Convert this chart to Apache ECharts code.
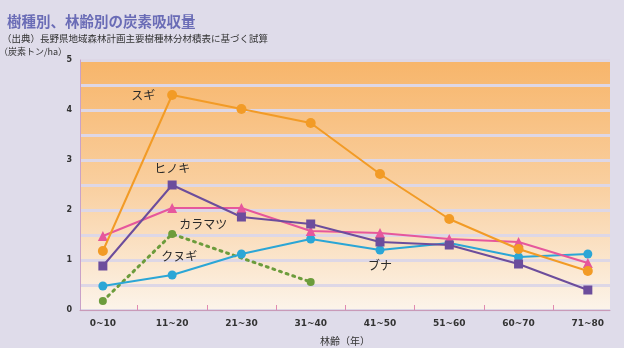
<!DOCTYPE html>
<html>
<head>
<meta charset="utf-8">
<script src="https://cdn.jsdelivr.net/npm/echarts@6/dist/echarts.min.js"></script>
<style>
html,body{margin:0;padding:0;background:#dfdcea;}
#c{width:624px;height:348px;}
</style>
</head>
<body>
<div id="c"></div>
<script>
var categories = ['0~10','11~20','21~30','31~40','41~50','51~60','60~70','71~80'];
var sugi     = [1.18, 4.30, 4.02, 3.74, 2.72, 1.82, 1.22, 0.78];
var hinoki   = [0.88, 2.50, 1.86, 1.72, 1.36, 1.30, 0.92, 0.40];
var karamatsu= [1.48, 2.04, 2.04, 1.58, 1.54, 1.42, 1.36, 0.94];
var buna     = [0.48, 0.70, 1.12, 1.42, 1.20, 1.34, 1.06, 1.12];
var kunugi   = [0.18, 1.52, null, 0.56, null, null, null, null];
var yTicks   = [0, 1, 2, 3, 4, 5];

function pts(arr){ return arr.map(function(v,i){ return [i, v]; }); }
function withLabel(arr, idx, label){
  var d = pts(arr);
  d[idx] = {value: d[idx], label: label};
  return d;
}
var lblFont = {show:true, color:'#2a2a2a', fontSize:12, fontFamily:'Noto Sans CJK JP'};

var chart = echarts.init(document.getElementById('c'), null, {renderer:'canvas'});
chart.setOption({
  backgroundColor: '#dfdcea',
  animation: false,
  title: [{
    text: '樹種別、林齢別の炭素吸収量',
    left: 2, top: 9,
    textStyle: {color:'#6a6cb6', fontSize:14.5, fontWeight:'bold', fontFamily:'Noto Sans CJK JP'}
  },{
    text: '（出典）長野県地域森林計画主要樹種林分材積表に基づく試算',
    left: -3, top: 29,
    textStyle: {color:'#333', fontSize:9.5, fontWeight:'normal', fontFamily:'Noto Sans CJK JP'}
  }],
  grid: {
    left: 80, right: 14, top: 60, bottom: 38,
    containLabel: false, outerBoundsMode: 'none',
    show: true, borderWidth: 0,
    backgroundColor: new echarts.graphic.LinearGradient(0,0,0,1,[
      {offset:0, color:'#f7b56a'},
      {offset:0.5, color:'#f9cf9f'},
      {offset:1, color:'#fcf4ea'}
    ])
  },
  xAxis: {
    type: 'value', min: -0.33, max: 7.32,
    name: '林齢（年）', nameLocation: 'middle', nameGap: 26,
    nameTextStyle: {color:'#333', fontSize:10, fontFamily:'Noto Sans CJK JP'},
    axisLine: {show:true, onZero:false, lineStyle:{color:'#c99ab8', width:1}},
    axisTick: {show:true, customValues:[0.5,1.5,2.5,3.5,4.5,5.5,6.5], length:5, inside:true, lineStyle:{color:'#e08ab0'}},
    axisLabel: {
      customValues: [0,1,2,3,4,5,6,7],
      formatter: function(v){ return categories[Math.round(v)]; },
      color:'#333', fontSize:9, fontWeight:'bold', margin:9, fontFamily:'DejaVu Sans'
    },
    splitLine: {show:false}
  },
  yAxis: {
    type: 'value', min: 0, max: 5, interval: 0.5,
    name: '（炭素トン/ha）', nameLocation: 'end', nameGap: 1,
    nameTextStyle: {color:'#333', fontSize:9, align:'right', padding:[0,13,0,0], fontFamily:'Noto Sans CJK JP'},
    axisLine: {show:true, onZero:false, lineStyle:{color:'#c9a2c8', width:1}},
    axisTick: {show:false},
    axisLabel: {
      formatter: function(v){ return yTicks.indexOf(v) >= 0 ? String(v) : ''; },
      color:'#333', fontSize:8, fontWeight:'bold', margin:8, fontFamily:'DejaVu Sans'
    },
    splitLine: {show:true, lineStyle:{color:'#ddd7e6', width:3}}
  },
  series: [
    {
      name:'クヌギ', type:'line', connectNulls:true,
      data: withLabel(kunugi, 1, Object.assign({position:'bottom', distance:5, offset:[7,7], formatter:'クヌギ'}, lblFont)),
      symbol:'circle', symbolSize:8,
      lineStyle:{color:'#6c9c3c', width:3, type:[2,5], cap:'round'},
      itemStyle:{color:'#6c9c3c'},
      z: 2
    },
    {
      name:'ブナ', type:'line',
      data: withLabel(buna, 4, Object.assign({position:'bottom', distance:5, formatter:'ブナ'}, lblFont)),
      symbol:'circle', symbolSize:9,
      lineStyle:{color:'#2ba6d6', width:2},
      itemStyle:{color:'#2ba6d6'},
      z: 3
    },
    {
      name:'カラマツ', type:'line',
      data: withLabel(karamatsu, 1, Object.assign({position:'bottom', distance:5, offset:[31,0], formatter:'カラマツ'}, lblFont)),
      symbol:'triangle', symbolSize:10,
      lineStyle:{color:'#e6579c', width:2},
      itemStyle:{color:'#e6579c'},
      z: 4
    },
    {
      name:'ヒノキ', type:'line',
      data: withLabel(hinoki, 1, Object.assign({position:'top', distance:6, formatter:'ヒノキ'}, lblFont)),
      symbol:'rect', symbolSize:9,
      lineStyle:{color:'#6c4d9c', width:2},
      itemStyle:{color:'#6c4d9c'},
      z: 5
    },
    {
      name:'スギ', type:'line',
      data: withLabel(sugi, 1, Object.assign({position:'left', distance:12, formatter:'スギ'}, lblFont)),
      symbol:'circle', symbolSize:10,
      lineStyle:{color:'#f29b26', width:2},
      itemStyle:{color:'#f29b26'},
      z: 6
    }
  ]
});
</script>
</body>
</html>
